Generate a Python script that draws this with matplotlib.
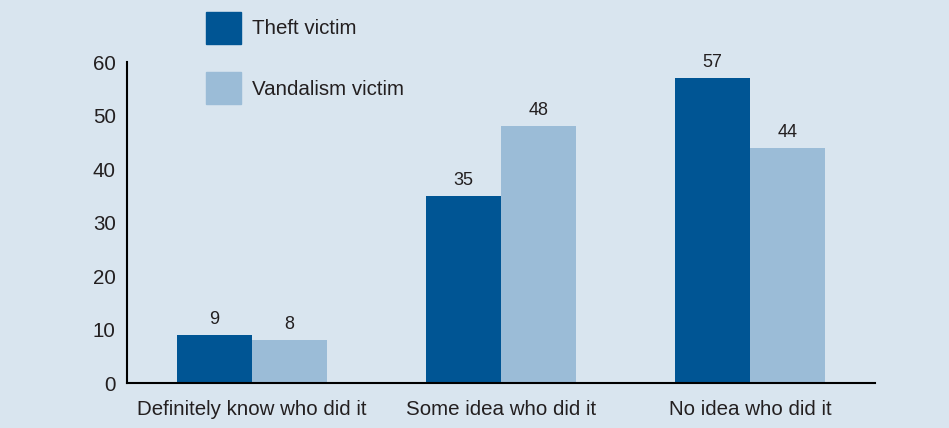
import numpy as np
import matplotlib.pyplot as plt
from matplotlib.patches import Patch

categorias = ["Definitely know who did it", "Some idea who did it", "No idea who did it"]
furto = [9, 35, 57]
vandalismo = [8, 48, 44]

cor_fundo = "#d9e5ef"
cor_furto = "#005594"
cor_vand = "#9bbcd7"
cor_texto = "#231f20"

plt.rcParams['font.family'] = ['Liberation Sans', 'DejaVu Sans']

fig = plt.figure(figsize=(9.49, 4.28), dpi=100, facecolor=cor_fundo)
ax = fig.add_axes([0.1338, 0.105, 0.788, 0.750])
ax.set_facecolor(cor_fundo)

x = np.arange(len(categorias))
largura = 0.301
b1 = ax.bar(x - largura/2, furto, largura, color=cor_furto)
b2 = ax.bar(x + largura/2, vandalismo, largura, color=cor_vand)

for barras, vals in ((b1, furto), (b2, vandalismo)):
    for b, v in zip(barras, vals):
        ax.text(b.get_x() + b.get_width()/2, v + 1.3, str(v), ha="center", va="bottom",
                fontsize=13, color=cor_texto)

ax.set_xlim(-0.5, 2.5)
ax.set_ylim(0, 60)
ax.set_yticks(range(0, 61, 10))
ax.set_xticks(x)
ax.set_xticklabels(categorias)
ax.tick_params(length=0, labelsize=14.8, colors=cor_texto)
ax.tick_params(axis="y", pad=8)
ax.tick_params(axis="x", pad=12)
for lado in ("top", "right"):
    ax.spines[lado].set_visible(False)
for lado in ("left", "bottom"):
    ax.spines[lado].set_linewidth(1.5)
    ax.spines[lado].set_color("black")

alças = [Patch(color=cor_furto, label="Theft victim"), Patch(color=cor_vand, label="Vandalism victim")]
fig.legend(handles=alças, loc="upper left", bbox_to_anchor=(0.2175, 0.972), frameon=False,
           fontsize=14.8, handlelength=1.7, handleheight=2.0, labelspacing=1.38,
           handletextpad=0.5, labelcolor=cor_texto, borderaxespad=0.0, borderpad=0.0)

fig.savefig("out.png", dpi=100, facecolor=cor_fundo)
